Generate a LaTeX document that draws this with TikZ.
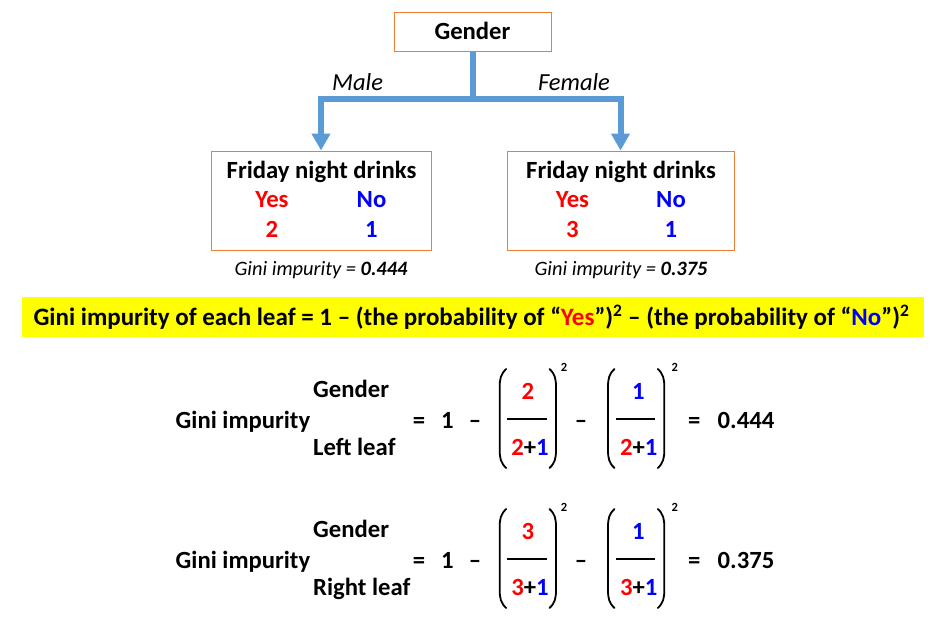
\documentclass[tikz,border=0pt]{standalone}
\usepackage{fontspec}
\setmainfont{Carlito}
\usetikzlibrary{arrows.meta}
\definecolor{boxor}{RGB}{237,125,49}
\definecolor{arrblue}{RGB}{91,155,213}
\definecolor{myred}{RGB}{255,0,0}
\definecolor{myblue}{RGB}{0,0,255}
\definecolor{myyellow}{RGB}{255,255,0}
\begin{document}
\begin{tikzpicture}[x=1pt,y=-1pt,
  bt/.style={inner sep=0pt, text height=20pt, text depth=4.1pt, font=\fontsize{24.7}{28}\selectfont\bfseries},
  it/.style={inner sep=0pt, text height=20pt, text depth=4.2pt, font=\fontsize{24.5}{28}\selectfont\itshape},
  gt/.style={inner sep=0pt, text height=16.6pt, text depth=3.5pt, font=\fontsize{20.4}{24}\selectfont\itshape},
  yt/.style={inner sep=0pt, text height=20.2pt, text depth=4.1pt, font=\fontsize{25}{28}\selectfont\bfseries},
  st/.style={inner sep=0pt, font=\fontsize{12.5}{15}\selectfont\bfseries},
  obox/.style={draw=boxor, line width=1pt, inner sep=0pt},
  conn/.style={draw=arrblue, line width=6pt, -{Triangle[length=17pt,width=18pt]}},
  lparen/.pic={\draw[line width=1.8pt, line cap=round] (6.5,0) .. controls (1,5) and (0,10) .. (0,18) -- (0,81) .. controls (0,89) and (1,94) .. (6.5,99);},
  rparen/.pic={\draw[line width=1.8pt, line cap=round] (-6.5,0) .. controls (-1,5) and (0,10) .. (0,18) -- (0,81) .. controls (0,89) and (-1,94) .. (-6.5,99);},
  fbar/.style={line width=1.5pt}
]
\useasboundingbox (0,0) rectangle (946,624);
\fill[white] (0,0) rectangle (946,624);

% tree
\node[obox, minimum width=157pt, minimum height=39pt] (G) at (472.5,31.5) {};
\node[bt] (Gt) at (G.center) {Gender};
\node[obox, minimum width=220pt, minimum height=99pt] (L) at (321,200.5) {};
\node[obox, minimum width=227pt, minimum height=99pt] (R) at (620.5,200.5) {};
\coordinate (J) at (472.5,99);
\draw[conn] (G.south) -- (J) -| (L.north);
\draw[conn] (G.south) -- (J) -| (R.north);
\node[it] (male) at (357.6,83) {Male};
\node[it] (female) at (574,83) {Female};

\node[bt] (Lh) at (321.5,171) {Friday night drinks};
\node[bt, text=myred] (Ly) at (272,200) {Yes};
\node[bt, text=myblue] (Ln) at (371.5,200) {No};
\node[bt, text=myred] (Lyv) at (272,230) {2};
\node[bt, text=myblue] (Lnv) at (371.5,230) {1};
\node[bt] (Rh) at (621,171) {Friday night drinks};
\node[bt, text=myred] (Ry) at (572.5,200) {Yes};
\node[bt, text=myblue] (Rn) at (671,200) {No};
\node[bt, text=myred] (Ryv) at (572.5,230) {3};
\node[bt, text=myblue] (Rnv) at (671,230) {1};
\node[gt] (Lg) at (321,269) {Gini impurity = \textbf{0.444}};
\node[gt] (Rg) at (621,269) {Gini impurity = \textbf{0.375}};

% yellow formula
\fill[myyellow] (22,297) rectangle (924,337);
\node[yt] (formula) at (471.5,317) {Gini impurity of each leaf = 1 – (the probability of “\textcolor{myred}{Yes}”)\textsuperscript{2} – (the probability of “\textcolor{myblue}{No}”)\textsuperscript{2}};

% equation 1
\node[bt, anchor=west] (e1a) at (175.5,421) {Gini impurity};
\node[bt, anchor=west] (e1b) at (313,390) {Gender};
\node[bt, anchor=west] (e1c) at (313,448) {Left leaf};
\node[bt] (e1eq) at (419,421) {=};
\node[bt] (e1one) at (447.3,421) {1};
\node[bt] (e1m) at (475,421) {–};
\pic at (499.7,369) {lparen};
\pic at (556,369) {rparen};
\node[st] (e1s1) at (564,367) {2};
\node[bt, text=myred] (e1n1) at (528,392) {2};
\draw[fbar] (507,419) -- (546.7,419);
\node[bt] (e1d1) at (530,448) {\textcolor{myred}{2}+\textcolor{myblue}{1}};
\node[bt] (e1m2) at (581,421) {–};
\pic at (608,369) {lparen};
\pic at (664.3,369) {rparen};
\node[st] (e1s2) at (674.7,367) {2};
\node[bt, text=myblue] (e1n2) at (638.3,392) {1};
\draw[fbar] (616,419) -- (655,419);
\node[bt] (e1d2) at (638.7,448) {\textcolor{myred}{2}+\textcolor{myblue}{1}};
\node[bt] (e1eq2) at (694.3,421) {=};
\node[bt] (e1r) at (746,421) {0.444};

% equation 2
\node[bt, anchor=west] (e2a) at (175.5,561) {Gini impurity};
\node[bt, anchor=west] (e2b) at (313,530) {Gender};
\node[bt, anchor=west] (e2c) at (313,588) {Right leaf};
\node[bt] (e2eq) at (419,561) {=};
\node[bt] (e2one) at (447.3,561) {1};
\node[bt] (e2m) at (475,561) {–};
\pic at (499.7,509) {lparen};
\pic at (556,509) {rparen};
\node[st] (e2s1) at (564,507) {2};
\node[bt, text=myred] (e2n1) at (528,532) {3};
\draw[fbar] (507,559) -- (546.7,559);
\node[bt] (e2d1) at (530,588) {\textcolor{myred}{3}+\textcolor{myblue}{1}};
\node[bt] (e2m2) at (581,561) {–};
\pic at (608,509) {lparen};
\pic at (664.3,509) {rparen};
\node[st] (e2s2) at (674.7,507) {2};
\node[bt, text=myblue] (e2n2) at (638.3,532) {1};
\draw[fbar] (616,559) -- (655,559);
\node[bt] (e2d2) at (638.7,588) {\textcolor{myred}{3}+\textcolor{myblue}{1}};
\node[bt] (e2eq2) at (694.3,561) {=};
\node[bt] (e2r) at (746,561) {0.375};
\end{tikzpicture}
\end{document}
